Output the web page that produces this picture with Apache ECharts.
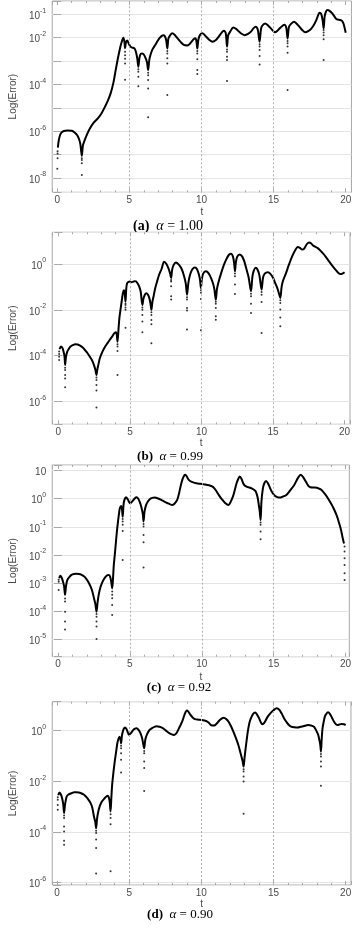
<!DOCTYPE html>
<html><head><meta charset="utf-8">
<script src="https://cdn.jsdelivr.net/npm/echarts@6/dist/echarts.min.js"></script>
<style>html,body{margin:0;padding:0;background:#fff;}#c{width:354px;height:930px;}</style>
</head><body><div id="c"></div>
<script>
// ---- DATA: [t, log10(Error)] ----
const curveA = [[0.04,-6.7],[0.1,-6.4],[0.2,-6.15],[0.3,-6.05],[0.45,-5.99],[0.7,-5.97],[1.0,-5.98],[1.2,-6.05],[1.37,-6.16],[1.5,-6.32],[1.6,-6.55],[1.7,-7.05],[1.78,-6.6],[1.92,-6.35],[2.1,-6.08],[2.26,-5.88],[2.5,-5.65],[2.81,-5.45],[3.05,-5.25],[3.25,-5.02],[3.5,-4.7],[3.7,-4.38],[3.9,-3.9],[4.03,-3.45],[4.15,-3.05],[4.25,-2.74],[4.37,-2.4],[4.47,-2.17],[4.58,-2.0],[4.65,-2.15],[4.7,-2.45],[4.76,-2.2],[4.85,-2.12],[4.95,-2.25],[5.07,-2.38],[5.2,-2.42],[5.35,-2.46],[5.45,-2.6],[5.55,-2.9],[5.62,-3.24],[5.7,-2.85],[5.8,-2.68],[5.9,-2.67],[6.0,-2.72],[6.13,-2.88],[6.22,-3.05],[6.3,-3.38],[6.38,-2.95],[6.46,-2.74],[6.6,-2.5],[6.79,-2.31],[7.0,-2.1],[7.12,-2.0],[7.25,-1.92],[7.35,-1.89],[7.45,-1.93],[7.55,-2.1],[7.63,-2.46],[7.7,-2.05],[7.79,-1.93],[7.96,-1.81],[8.15,-1.88],[8.34,-2.03],[8.55,-2.18],[8.78,-2.31],[9.0,-2.33],[9.12,-2.3],[9.3,-2.18],[9.45,-2.07],[9.58,-2.02],[9.65,-2.15],[9.71,-2.46],[9.78,-2.1],[9.89,-1.89],[10.07,-1.81],[10.33,-1.96],[10.55,-2.1],[10.77,-2.17],[11.0,-2.1],[11.2,-1.95],[11.4,-1.78],[11.55,-1.7],[11.68,-1.8],[11.77,-2.38],[11.85,-1.9],[11.99,-1.74],[12.21,-1.56],[12.4,-1.62],[12.54,-1.7],[12.75,-1.82],[12.99,-1.89],[13.2,-1.85],[13.43,-1.74],[13.6,-1.6],[13.76,-1.53],[13.9,-1.65],[14.03,-2.17],[14.12,-1.65],[14.2,-1.5],[14.42,-1.39],[14.6,-1.47],[14.76,-1.57],[15.0,-1.73],[15.09,-1.77],[15.3,-1.68],[15.54,-1.53],[15.75,-1.45],[15.88,-1.58],[15.97,-2.03],[16.06,-1.55],[16.19,-1.42],[16.42,-1.32],[16.6,-1.4],[16.75,-1.5],[17.0,-1.68],[17.19,-1.77],[17.4,-1.72],[17.63,-1.6],[17.8,-1.45],[17.96,-1.25],[18.1,-1.02],[18.19,-0.93],[18.3,-0.98],[18.4,-1.25],[18.47,-1.6],[18.54,-1.1],[18.63,-0.89],[18.74,-0.82],[18.9,-0.86],[19.07,-0.96],[19.25,-1.12],[19.4,-1.22],[19.6,-1.24],[19.73,-1.27],[19.85,-1.4],[20.0,-1.79]];
const dotsA = [[0.02,-6.85],[0.02,-6.95],[0.02,-7.15],[0.0,-7.6],[1.7,-7.15],[1.7,-7.23],[1.7,-7.37],[1.7,-7.87],[4.7,-2.6],[4.7,-2.75],[4.7,-2.9],[4.7,-3.1],[4.7,-3.8],[5.62,-3.35],[5.62,-3.45],[5.62,-3.67],[5.62,-4.07],[6.3,-3.5],[6.3,-3.6],[6.3,-3.81],[6.3,-4.17],[6.3,-5.4],[7.63,-2.57],[7.63,-2.67],[7.63,-2.88],[7.63,-3.1],[7.63,-4.45],[9.71,-2.57],[9.71,-2.67],[9.71,-2.92],[9.71,-3.38],[9.71,-3.55],[11.77,-2.5],[11.77,-2.6],[11.77,-2.81],[11.77,-2.95],[11.77,-3.85],[14.03,-2.28],[14.03,-2.38],[14.03,-2.53],[14.03,-2.78],[14.03,-3.14],[15.97,-2.14],[15.97,-2.24],[15.97,-2.38],[15.97,-2.64],[15.97,-4.24],[18.47,-1.67],[18.47,-1.78],[18.47,-1.89],[18.47,-2.07],[18.47,-2.95]];

const curveB = [[0.08,-3.72],[0.18,-3.6],[0.28,-3.66],[0.36,-3.82],[0.43,-4.05],[0.47,-4.4],[0.53,-4.05],[0.62,-3.82],[0.75,-3.68],[0.85,-3.6],[1.0,-3.54],[1.18,-3.5],[1.35,-3.51],[1.52,-3.56],[1.7,-3.64],[1.85,-3.75],[2.0,-3.86],[2.19,-4.04],[2.35,-4.2],[2.48,-4.4],[2.58,-4.6],[2.66,-4.84],[2.72,-4.6],[2.79,-4.4],[2.9,-4.1],[3.08,-3.82],[3.25,-3.62],[3.42,-3.46],[3.6,-3.3],[3.75,-3.17],[3.9,-3.03],[4.0,-2.98],[4.07,-3.05],[4.13,-3.39],[4.2,-2.85],[4.26,-2.37],[4.35,-1.95],[4.42,-1.64],[4.5,-1.3],[4.58,-1.15],[4.63,-1.25],[4.69,-1.64],[4.74,-1.1],[4.8,-0.84],[4.9,-0.78],[4.98,-0.77],[5.1,-0.8],[5.2,-0.78],[5.3,-0.75],[5.42,-0.76],[5.55,-0.86],[5.65,-0.99],[5.75,-1.2],[5.87,-1.79],[5.95,-1.5],[6.05,-1.33],[6.14,-1.28],[6.25,-1.33],[6.35,-1.48],[6.43,-1.7],[6.5,-2.0],[6.57,-1.65],[6.65,-1.42],[6.75,-1.1],[6.88,-0.8],[7.05,-0.45],[7.21,-0.22],[7.39,0.1],[7.55,0.0],[7.7,-0.2],[7.8,-0.4],[7.88,-0.61],[7.95,-0.25],[8.05,-0.05],[8.21,0.06],[8.4,-0.02],[8.6,-0.2],[8.77,-0.5],[8.9,-0.85],[8.99,-1.34],[9.08,-0.85],[9.17,-0.55],[9.3,-0.3],[9.45,-0.17],[9.55,-0.15],[9.68,-0.22],[9.8,-0.42],[9.9,-0.7],[9.96,-1.05],[10.03,-0.65],[10.12,-0.42],[10.29,-0.32],[10.45,-0.37],[10.6,-0.52],[10.78,-0.8],[10.9,-1.1],[11.0,-1.56],[11.08,-1.1],[11.23,-0.7],[11.4,-0.35],[11.56,-0.05],[11.75,0.22],[11.92,0.4],[12.07,0.45],[12.2,0.32],[12.28,0.05],[12.34,-0.32],[12.4,0.05],[12.5,0.32],[12.68,0.41],[12.85,0.32],[13.0,0.1],[13.13,-0.2],[13.3,-0.6],[13.46,-1.19],[13.56,-0.55],[13.65,-0.3],[13.79,-0.17],[13.92,-0.25],[14.05,-0.5],[14.2,-1.12],[14.3,-0.6],[14.42,-0.42],[14.64,-0.36],[14.8,-0.42],[15.0,-0.6],[15.13,-0.8],[15.3,-1.05],[15.42,-1.3],[15.51,-1.48],[15.6,-1.0],[15.69,-0.75],[15.91,-0.4],[16.1,-0.05],[16.35,0.35],[16.55,0.6],[16.73,0.74],[16.88,0.7],[17.03,0.63],[17.15,0.65],[17.37,0.87],[17.52,0.94],[17.65,0.9],[17.81,0.8],[18.15,0.68],[18.48,0.47],[18.7,0.3],[18.93,0.1],[19.15,-0.08],[19.38,-0.26],[19.55,-0.38],[19.71,-0.44],[19.85,-0.42],[20.0,-0.36]];
const dotsB = [[0.05,-3.82],[0.05,-3.93],[0.05,-4.04],[0.05,-4.19],[0.47,-4.52],[0.47,-4.62],[0.47,-4.84],[0.47,-4.99],[0.47,-5.38],[2.66,-4.95],[2.66,-5.06],[2.66,-5.28],[2.66,-5.52],[2.66,-6.26],[4.13,-3.5],[4.13,-3.6],[4.13,-3.79],[4.13,-4.84],[4.69,-1.72],[4.69,-1.79],[4.69,-1.9],[4.69,-2.0],[4.69,-2.78],[5.87,-1.9],[5.87,-2.0],[5.87,-2.22],[5.87,-2.51],[5.87,-2.98],[6.5,-2.1],[6.5,-2.22],[6.5,-2.44],[6.5,-2.63],[6.5,-3.46],[7.88,-0.7],[7.88,-0.77],[7.88,-0.97],[7.88,-1.41],[7.88,-1.55],[8.99,-1.45],[8.99,-1.55],[8.99,-1.92],[8.99,-2.03],[8.99,-2.86],[9.96,-1.15],[9.96,-1.26],[9.96,-1.53],[9.96,-2.89],[11.0,-1.65],[11.0,-1.74],[11.0,-1.92],[11.0,-2.28],[11.0,-2.43],[12.34,-0.42],[12.34,-0.54],[12.34,-0.9],[12.34,-1.31],[13.46,-1.3],[13.46,-1.41],[13.46,-1.74],[13.46,-2.14],[14.2,-1.22],[14.2,-1.34],[14.2,-1.66],[14.2,-3.01],[15.51,-1.58],[15.51,-1.7],[15.51,-1.99],[15.51,-2.33],[15.51,-2.72]];

const curveC = [[0.08,-2.83],[0.16,-2.74],[0.25,-2.8],[0.33,-2.92],[0.42,-3.1],[0.49,-3.42],[0.56,-3.1],[0.65,-2.89],[0.8,-2.78],[0.94,-2.71],[1.1,-2.68],[1.27,-2.67],[1.45,-2.68],[1.61,-2.7],[1.8,-2.76],[1.94,-2.83],[2.1,-2.95],[2.27,-3.13],[2.4,-3.32],[2.5,-3.54],[2.6,-3.75],[2.68,-4.02],[2.75,-3.7],[2.83,-3.42],[2.95,-3.15],[3.05,-3.01],[3.2,-2.86],[3.32,-2.77],[3.45,-2.72],[3.55,-2.71],[3.63,-2.78],[3.7,-2.95],[3.77,-3.19],[3.83,-2.8],[3.88,-2.36],[3.95,-2.0],[4.01,-1.65],[4.09,-1.2],[4.17,-0.82],[4.25,-0.5],[4.3,-0.34],[4.39,-0.26],[4.45,-0.38],[4.5,-0.64],[4.56,-0.2],[4.62,-0.04],[4.73,0.05],[4.85,-0.02],[5.02,-0.16],[5.12,-0.12],[5.24,-0.05],[5.35,0.02],[5.46,0.05],[5.58,0.0],[5.69,-0.12],[5.8,-0.3],[5.9,-0.55],[5.95,-0.81],[6.02,-0.45],[6.13,-0.22],[6.25,-0.1],[6.4,-0.01],[6.55,0.03],[6.73,0.04],[6.95,0.01],[7.18,-0.04],[7.4,-0.1],[7.63,-0.16],[7.8,-0.2],[7.96,-0.22],[8.1,-0.18],[8.29,-0.04],[8.4,0.15],[8.52,0.43],[8.65,0.68],[8.78,0.83],[8.85,0.85],[8.95,0.8],[9.05,0.7],[9.18,0.63],[9.4,0.58],[9.63,0.55],[9.9,0.53],[10.19,0.51],[10.5,0.48],[10.75,0.43],[10.95,0.32],[11.19,0.13],[11.4,-0.02],[11.64,-0.16],[11.86,-0.22],[12.0,-0.12],[12.2,0.13],[12.42,0.55],[12.55,0.72],[12.64,0.79],[12.75,0.72],[12.88,0.55],[12.98,0.47],[13.15,0.42],[13.31,0.4],[13.5,0.36],[13.65,0.31],[13.76,0.25],[13.88,0.05],[13.96,-0.2],[14.03,-0.45],[14.09,-0.76],[14.15,-0.1],[14.25,0.37],[14.35,0.55],[14.47,0.63],[14.6,0.55],[14.75,0.38],[14.87,0.25],[15.1,0.1],[15.3,0.05],[15.43,0.04],[15.65,0.08],[15.88,0.13],[16.15,0.3],[16.43,0.49],[16.7,0.75],[16.88,0.85],[17.05,0.77],[17.21,0.63],[17.4,0.47],[17.55,0.41],[17.8,0.4],[17.99,0.39],[18.15,0.36],[18.33,0.31],[18.55,0.18],[18.77,0.02],[19.0,-0.18],[19.22,-0.4],[19.4,-0.62],[19.55,-0.87],[19.68,-1.1],[19.78,-1.35],[19.89,-1.59]];
const dotsC = [[0.05,-2.88],[0.05,-2.95],[0.05,-3.25],[0.49,-3.55],[0.49,-3.66],[0.49,-4.02],[0.49,-4.37],[0.49,-4.65],[2.68,-4.1],[2.68,-4.2],[2.68,-4.37],[2.68,-4.55],[2.68,-4.99],[3.77,-3.3],[3.77,-3.42],[3.77,-3.54],[3.77,-3.78],[3.77,-4.14],[4.5,-0.72],[4.5,-0.81],[4.5,-0.93],[4.5,-1.15],[4.5,-2.18],[5.95,-0.9],[5.95,-0.99],[5.95,-1.29],[5.95,-1.55],[5.95,-2.45],[14.09,-0.85],[14.09,-0.93],[14.09,-1.17],[14.09,-1.44],[19.93,-1.7],[19.93,-1.88],[19.93,-2.12],[19.93,-2.36],[19.93,-2.65],[19.93,-2.89]];

const curveD = [[0.08,-2.55],[0.18,-2.44],[0.27,-2.52],[0.35,-2.66],[0.43,-2.9],[0.49,-3.25],[0.56,-2.9],[0.67,-2.6],[0.8,-2.52],[1.0,-2.47],[1.2,-2.43],[1.33,-2.43],[1.5,-2.44],[1.67,-2.47],[1.85,-2.52],[2.0,-2.6],[2.15,-2.7],[2.33,-2.86],[2.45,-3.05],[2.56,-3.39],[2.65,-3.6],[2.71,-3.85],[2.77,-3.5],[2.84,-3.25],[2.95,-3.0],[3.11,-2.8],[3.25,-2.7],[3.38,-2.62],[3.51,-2.57],[3.58,-2.62],[3.65,-2.8],[3.71,-3.19],[3.77,-2.6],[3.82,-2.14],[3.9,-1.7],[4.0,-1.22],[4.1,-0.82],[4.18,-0.5],[4.26,-0.32],[4.33,-0.24],[4.39,-0.32],[4.44,-0.5],[4.5,-0.2],[4.56,-0.04],[4.63,0.07],[4.71,0.12],[4.82,0.05],[5.0,-0.17],[5.12,-0.1],[5.29,0.03],[5.4,0.08],[5.51,0.09],[5.65,0.03],[5.78,-0.1],[5.9,-0.3],[6.04,-0.7],[6.12,-0.35],[6.22,-0.17],[6.4,0.02],[6.56,0.09],[6.75,0.15],[6.89,0.17],[7.1,0.15],[7.33,0.1],[7.55,0.0],[7.78,-0.1],[7.95,-0.15],[8.11,-0.17],[8.25,-0.12],[8.33,-0.05],[8.5,0.15],[8.67,0.35],[8.85,0.65],[9.0,0.79],[9.1,0.75],[9.22,0.64],[9.4,0.52],[9.56,0.45],[9.8,0.43],[10.0,0.42],[10.33,0.38],[10.5,0.32],[10.67,0.22],[10.89,0.2],[11.05,0.27],[11.22,0.38],[11.4,0.47],[11.56,0.51],[11.72,0.46],[11.89,0.35],[12.05,0.18],[12.22,-0.04],[12.4,-0.3],[12.56,-0.56],[12.7,-0.85],[12.78,-1.02],[12.86,-1.2],[12.93,-1.42],[13.0,-1.05],[13.07,-0.7],[13.15,-0.35],[13.22,-0.04],[13.33,0.3],[13.44,0.49],[13.58,0.65],[13.73,0.71],[13.85,0.64],[14.0,0.49],[14.12,0.33],[14.22,0.25],[14.32,0.28],[14.44,0.38],[14.6,0.55],[14.78,0.68],[15.0,0.8],[15.22,0.88],[15.4,0.82],[15.56,0.68],[15.72,0.5],[15.89,0.35],[16.05,0.23],[16.22,0.16],[16.45,0.13],[16.67,0.12],[16.9,0.15],[17.11,0.18],[17.3,0.21],[17.44,0.22],[17.6,0.2],[17.78,0.16],[17.9,0.07],[18.0,-0.04],[18.1,-0.17],[18.18,-0.37],[18.24,-0.55],[18.29,-0.83],[18.34,-0.35],[18.4,0.09],[18.48,0.35],[18.56,0.55],[18.65,0.65],[18.78,0.72],[18.92,0.65],[19.07,0.49],[19.2,0.35],[19.33,0.25],[19.45,0.22],[19.56,0.24],[19.7,0.26],[19.89,0.25],[20.0,0.22]];
const dotsD = [[0.05,-2.63],[0.05,-2.73],[0.05,-2.93],[0.05,-3.12],[0.49,-3.35],[0.49,-3.45],[0.49,-3.78],[0.49,-3.98],[0.49,-4.34],[0.49,-4.5],[2.71,-3.95],[2.71,-4.04],[2.71,-4.3],[2.71,-4.63],[2.71,-5.64],[3.71,-3.3],[3.71,-3.45],[3.71,-3.69],[3.71,-5.55],[4.44,-0.6],[4.44,-0.7],[4.44,-0.89],[4.44,-1.15],[4.44,-1.65],[6.04,-0.8],[6.04,-0.89],[6.04,-1.22],[6.04,-1.48],[6.04,-2.38],[12.93,-1.52],[12.93,-1.61],[12.93,-1.81],[12.93,-2.01],[12.93,-3.28],[18.29,-0.92],[18.29,-1.02],[18.29,-1.22],[18.29,-1.42],[18.29,-2.18]];

const xTicks = [0, 5, 10, 15, 20];
const gridLinesT = [5, 10, 15];
const yLabelExpA = [-8, -6, -4, -2, -1];
const yLabelExpB = [0, -2, -4, -6];
const yLabelExpC = [1, 0, -1, -2, -3, -4, -5];
const yLabelExpD = [0, -2, -4, -6];
const captions = [['(a)', '1.00'], ['(b)', '0.99'], ['(c)', '0.92'], ['(d)', '0.90']];

// ---- LAYOUT ----
const panels = [
  {curve: curveA, dots: dotsA, exps: yLabelExpA, top: 1, bottom: 192.3, left: 39, right: 351.7, xMin: -0.35, xMax: 20.4, yMin: -8.61, yMax: -0.43, base: 10, tGap: 15, cap: [168, 226], capSize: 14},
  {curve: curveB, dots: dotsB, exps: yLabelExpB, top: 232.3, bottom: 424.3, left: 39.3, right: 350, xMin: -0.43, xMax: 20.38, yMin: -6.99, yMax: 1.38, base: 100, tGap: 14, cap: [170, 457], capSize: 13},
  {curve: curveC, dots: dotsC, exps: yLabelExpC, top: 465, bottom: 656.7, left: 41.7, right: 350, xMin: -0.4, xMax: 20.26, yMin: -5.62, yMax: 1.2, base: 10, tGap: 16, cap: [179, 688], capSize: 13},
  {curve: curveD, dots: dotsD, exps: yLabelExpD, top: 701.7, bottom: 885, left: 41.7, right: 352.3, xMin: -0.33, xMax: 20.37, yMin: -6.09, yMax: 1.14, base: 100, tGap: 14, cap: [180, 915], capSize: 13}
];

const W = 354, H = 930;
const sans = 'Liberation Sans, Arial, sans-serif';
const serif = 'Liberation Serif, Times New Roman, serif';
const labelColor = '#4a4a4a';
const frameColor = '#a8a8a8';

const grids = [], xAxes = [], yAxes = [], series = [], graphics = [];
panels.forEach(function (p, i) {
  grids.push({left: p.left, top: p.top, width: p.right - p.left, height: p.bottom - p.top,
    show: true, borderColor: frameColor, borderWidth: 1, backgroundColor: 'transparent'});
  const xCommon = {type: 'value', gridIndex: i, min: p.xMin, max: p.xMax, splitNumber: 4,
    axisLine: {show: false}, splitLine: {show: false},
    axisTick: {show: true, inside: true, length: 4, lineStyle: {color: frameColor}},
    minorTick: {show: true, splitNumber: 5, length: 2, lineStyle: {color: frameColor}}};
  xAxes.push(Object.assign({}, xCommon, {position: 'bottom', name: 't', nameLocation: 'middle', nameGap: p.tGap,
    nameTextStyle: {fontFamily: sans, fontSize: 10, color: labelColor},
    axisLabel: {show: true, margin: 3, fontFamily: sans, fontSize: 10, color: labelColor,
      showMinLabel: false, showMaxLabel: false,
      formatter: function (v) { return xTicks.indexOf(v) >= 0 ? String(v) : ''; }}}));
  xAxes.push(Object.assign({}, xCommon, {position: 'top', axisLabel: {show: false}}));
  const yMin = Math.pow(10, p.yMin), yMax = Math.pow(10, p.yMax);
  const exps = p.exps;
  const yCommon = {type: 'log', gridIndex: i, logBase: p.base, min: yMin, max: yMax,
    axisLine: {show: false},
    axisTick: {show: true, inside: true, length: 4, lineStyle: {color: frameColor}}};
  yAxes.push(Object.assign({}, yCommon, {position: 'left', name: 'Log(Error)', nameLocation: 'middle', nameGap: 28,
    nameTextStyle: {fontFamily: sans, fontSize: 10, color: labelColor},
    splitLine: {show: true, lineStyle: {color: '#e4e4e4', width: 1}},
    axisLabel: {show: true, margin: 6, fontFamily: sans, color: labelColor,
      formatter: function (v) {
        const e = Math.log10(v);
        const k = Math.round(e);
        if (Math.abs(e - k) > 1e-6 || exps.indexOf(k) < 0) return '';
        if (k === 1) return '{b|10}';
        return '{b|10}{s|' + (k < 0 ? '-' + (-k) : String(k)) + '}';
      },
      rich: {b: {fontSize: 10, fontFamily: sans, color: labelColor, lineHeight: 14, verticalAlign: 'bottom'},
             s: {fontSize: 7, fontFamily: sans, color: labelColor, lineHeight: 8, verticalAlign: 'top'}}}}));
  yAxes.push(Object.assign({}, yCommon, {position: 'right', splitLine: {show: false}, axisLabel: {show: false}}));

  series.push({type: 'line', xAxisIndex: 2 * i, yAxisIndex: 2 * i,
    data: p.curve.map(function (d) { return [d[0], Math.pow(10, d[1])]; }),
    showSymbol: false, smooth: 0.3, lineStyle: {color: '#000', width: 2}, z: 3,
    markLine: {silent: true, symbol: ['none', 'none'], label: {show: false},
      lineStyle: {color: '#b0b0b0', type: [2, 2], width: 1},
      data: gridLinesT.map(function (t) { return {xAxis: t}; })}});
  series.push({type: 'scatter', xAxisIndex: 2 * i, yAxisIndex: 2 * i,
    data: p.dots.map(function (d) { return [d[0], Math.pow(10, d[1])]; }),
    symbol: 'circle', symbolSize: 2, itemStyle: {color: '#000'}, z: 4});

  const c = captions[i];
  graphics.push({type: 'text', x: p.cap[0], y: p.cap[1],
    style: {text: '{b|' + c[0] + '}  {i|α} {n|= ' + c[1] + '}',
      align: 'center', verticalAlign: 'middle', textAlign: 'center', textVerticalAlign: 'middle',
      fill: '#000', font: p.capSize + 'px ' + serif,
      rich: {b: {fontFamily: serif, fontWeight: 'bold', fontSize: p.capSize, fill: '#000'},
             i: {fontFamily: serif, fontStyle: 'italic', fontSize: p.capSize, fill: '#000'},
             n: {fontFamily: serif, fontSize: p.capSize, fill: '#000'}}}});
});

const chart = echarts.init(document.getElementById('c'), null, {renderer: 'canvas', width: W, height: H});
chart.setOption({
  animation: false,
  backgroundColor: '#fff',
  grid: grids, xAxis: xAxes, yAxis: yAxes, series: series, graphic: graphics
});
</script></body></html>
